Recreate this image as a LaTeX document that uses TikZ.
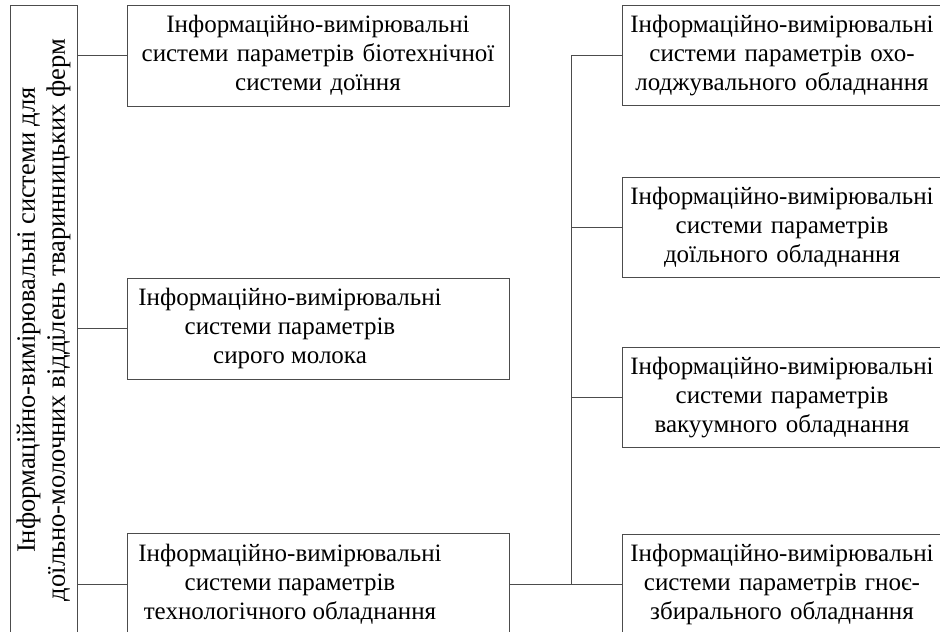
\documentclass[tikz,border=0pt]{standalone}
\usepackage{fontspec}
\setmainfont{Liberation Serif}
\usepackage{tikz}

\tikzset{
  frame/.style={draw=black!70, line width=0.8pt},
  sysbox/.style={frame, inner xsep=2pt, inner ysep=0pt, align=center,
    font=\fontsize{25}{29}\selectfont},
  midbox/.style={sysbox, minimum width=382pt, minimum height=101pt},
  rightbox/.style={sysbox, text width=316pt, minimum height=100pt},
  link/.style={draw=black!70, line width=0.8pt}
}
\newcommand{\lefttext}[1]{\parbox{310pt}{\centering #1}\hspace{56pt}}

\begin{document}
\begin{tikzpicture}[x=1pt,y=-1pt]
  \clip (0,0) rectangle (940,632);
  % main block
  \node[frame, minimum width=67pt, minimum height=630pt,
    font=\fontsize{26.5}{30}\selectfont] (farm) at (43.5,320)
    {\rotatebox{90}{\parbox{620pt}{\centering
      Інформаційно-вимірювальні системи для\\
      доїльно-молочних відділень тваринницьких ферм}}};
  % second level
  \node[midbox, text width=360pt] (milking) at (318,55.5)
    {Інформаційно-вимірювальні\\ системи параметрів біотехнічної\\ системи доїння};
  \node[midbox] (milk) at (318,328.5)
    {\lefttext{Інформаційно-вимірювальні\\ системи параметрів\\ сирого молока}};
  \node[midbox] (tech) at (318,584)
    {\lefttext{Інформаційно-вимірювальні\\ системи параметрів\\ технологічного обладнання}};
  % equipment
  \node[rightbox] (cooling) at (782,55.5)
    {Інформаційно-вимірювальні\\ системи параметрів охо-\\ лоджувального обладнання};
  \node[rightbox] (milkeq) at (782,227.5)
    {Інформаційно-вимірювальні\\ системи параметрів\\ доїльного обладнання};
  \node[rightbox] (vacuum) at (782,397.5)
    {Інформаційно-вимірювальні\\ системи параметрів\\ вакуумного обладнання};
  \node[rightbox] (manure) at (782,584)
    {Інформаційно-вимірювальні\\ системи параметрів гноє-\\ збирального обладнання};
  \coordinate (bus) at (571,0);

  % connections
  \foreach \n in {milking,milk,tech}
    \draw[link] (farm.east |- \n.west) -- (\n.west);
  \draw[link] (tech.east) -- (manure.west);
  \draw[link] (cooling.west) -| (bus |- manure.west);
  \foreach \n in {milkeq,vacuum}
    \draw[link] (bus |- \n.west) -- (\n.west);
\end{tikzpicture}
\end{document}
